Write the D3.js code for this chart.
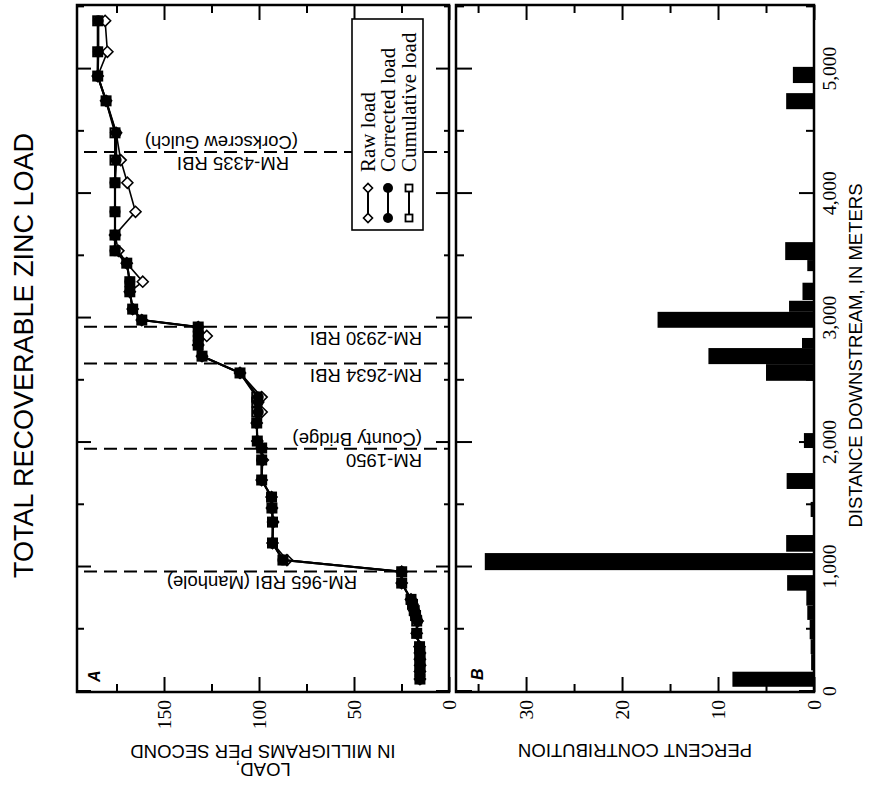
<!DOCTYPE html>
<html>
<head>
<meta charset="utf-8">
<script src="https://cdn.jsdelivr.net/npm/d3@7"></script>
<style>
  html, body { margin: 0; padding: 0; background: #fff; }
  svg { display: block; }
</style>
</head>
<body>
<script>
// ---- Data ---------------------------------------------------------------
// Sampling sites, distance downstream (m)
const distance = [100, 160, 210, 260, 310, 360, 467, 566, 610, 650, 700, 740, 871, 962,
  1056, 1193, 1361, 1474, 1562, 1699, 1860, 1956, 2012, 2157, 2245, 2325, 2365,
  2559, 2694, 2783, 2856, 2928, 2984, 3072, 3211, 3292, 3441, 3540, 3667, 3854,
  4087, 4269, 4488, 4745, 4944, 5139, 5388];

// Total recoverable zinc load (mg/s)
const rawLoad = [15.3, 15.3, 15.2, 15.3, 15.3, 15.5, 17.0, 16.5, 17.6, 18.3, 19.2, 20.0, 24.9, 24.9,
  85.3, 92.9, 92.6, 93.2, 93.4, 98.6, 98.0, 98.6, 100.9, 101.2, 98.6, 100.4, 98.6,
  110.0, 130.0, 132.0, 127.5, 132.0, 161.7, 166.5, 168.0, 161.2, 169.6, 174.0, 175.8, 165.0,
  169.3, 172.8, 175.2, 180.5, 184.9, 179.8, 181.0];

const correctedLoad = [15.3, 15.3, 15.2, 15.3, 15.3, 15.5, 17.0, 16.5, 17.6, 18.3, 19.2, 20.0, 24.9, 24.9,
  87.4, 92.9, 92.6, 93.2, 93.4, 98.6, 98.6, 98.6, 100.9, 101.2, 100.4, 100.4, 100.4,
  110.0, 130.0, 132.0, 132.0, 132.0, 161.7, 166.5, 168.0, 168.0, 169.6, 175.8, 175.8, 175.8,
  175.8, 175.2, 175.2, 180.5, 184.9, 184.6, 184.6];

const cumulativeLoad = [15.3, 15.3, 15.3, 15.3, 15.3, 15.5, 17.0, 17.0, 17.6, 18.3, 19.2, 20.0, 24.9, 24.9,
  87.4, 92.9, 92.9, 93.2, 93.4, 98.6, 98.6, 98.6, 100.9, 101.2, 101.2, 101.2, 101.2,
  110.0, 130.0, 132.0, 132.0, 132.0, 161.7, 166.5, 168.0, 168.0, 169.6, 175.8, 175.8, 175.8,
  175.8, 175.8, 175.8, 180.5, 184.9, 184.9, 184.9];

// Percent contribution by stream reach (start and end of reach, m)
const reachStart = [38, 170, 300, 420, 575, 690, 810, 975, 1123, 1402, 1627, 1956,
  2496, 2630, 2759, 2922, 3050, 3145, 3377, 3466, 4678, 4888];
const reachEnd = [159, 300, 420, 575, 690, 815, 935, 1112, 1257, 1523, 1755, 2076,
  2630, 2759, 2840, 3050, 3139, 3284, 3466, 3610, 4807, 5018];
const percentContribution = [8.5, 0.3, 0.35, 0.45, 0.7, 0.8, 2.8, 34.3, 2.9, 0.35, 2.85, 1.05,
  5.0, 11.0, 1.25, 16.3, 2.6, 1.2, 0.7, 3.0, 2.9, 2.2];

// Reference sites along the stream
const siteDistance = [965, 1950, 2634, 2930, 4335];
const siteName = ["RM-965 RBI (Manhole)", "RM-1950", "RM-2634 RBI", "RM-2930 RBI", "RM-4335 RBI"];
const siteNote = ["", "(County Bridge)", "", "", "(Corkscrew Gulch)"];

// Axis ticks
const distanceMajor = [0, 1000, 2000, 3000, 4000, 5000];
const distanceMinor = [500, 1500, 2500, 3500, 4500, 5500];
const loadMajor = [0, 50, 100, 150];
const loadMinor = [25, 75, 125, 175];
const percentMajor = [0, 10, 20, 30];
const percentMinor = [5, 15, 25, 35];

const legendLabels = ["Raw load", "Corrected load", "Cumulative load"];

// ---- Layout -------------------------------------------------------------
const SANS = '"Liberation Sans", Arial, Helvetica, sans-serif';
const SERIF = '"Liberation Serif", "Times New Roman", Times, serif';
const PAGE_W = 869, PAGE_H = 786;

// The figure is laid out in landscape and turned a quarter turn counter-clockwise.
const L = 94, R = 781;            // distance axis extent (landscape)
const aTop = 77, aBot = 449;      // panel A
const bTop = 456, bBot = 814;     // panel B

const svg = d3.select("body").append("svg")
  .attr("width", PAGE_W).attr("height", PAGE_H);
svg.append("rect").attr("width", PAGE_W).attr("height", PAGE_H).attr("fill", "#fff");

const g = svg.append("g").attr("transform", `translate(0,${PAGE_H}) rotate(-90)`);

const x = d3.scaleLinear().domain([0, 5515]).range([94.5, R]);
const yA = d3.scaleLinear().domain([0, 195.8]).range([aBot, aTop]);
const yB = d3.scaleLinear().domain([0, 37.3]).range([bBot, bTop]);

// ---- Axes ---------------------------------------------------------------
function drawAxis(axisFn, scale, values, len, at, horizontal, labels) {
  const ax = axisFn(scale).tickValues(values).tickSize(-len).tickPadding(8)
    .tickFormat(labels ? d3.format(",") : "");
  const sel = g.append("g")
    .attr("transform", horizontal ? `translate(0,${at})` : `translate(${at},0)`)
    .call(ax);
  sel.select(".domain").remove();
  sel.selectAll(".tick line").attr("stroke", "#000").attr("stroke-width", 2);
  sel.selectAll("text").attr("font-family", SERIF).attr("font-size", 19.5).attr("fill", "#000");
  return sel;
}

// Panel A
drawAxis(d3.axisTop, x, distanceMajor, 14, aTop, true, false);
drawAxis(d3.axisTop, x, distanceMinor.filter(d => x(d) < R), 7, aTop, true, false);
drawAxis(d3.axisBottom, x, distanceMajor, 13, aBot, true, false);
drawAxis(d3.axisBottom, x, distanceMinor.filter(d => x(d) < R), 5, aBot, true, false);
drawAxis(d3.axisLeft, yA, loadMajor, 15, L, false, true);
drawAxis(d3.axisLeft, yA, loadMinor, 8, L, false, false);
drawAxis(d3.axisRight, yA, loadMajor, 15, R, false, false);
drawAxis(d3.axisRight, yA, loadMinor, 8, R, false, false);

// Panel B
drawAxis(d3.axisTop, x, distanceMajor, 16, bTop, true, false);
drawAxis(d3.axisTop, x, distanceMinor.filter(d => x(d) < R), 8, bTop, true, false);
drawAxis(d3.axisBottom, x, distanceMajor, 15, bBot, true, true);
drawAxis(d3.axisBottom, x, distanceMinor.filter(d => x(d) < R), 8, bBot, true, false);
drawAxis(d3.axisLeft, yB, percentMajor, 15, L, false, true);
drawAxis(d3.axisLeft, yB, percentMinor, 8, L, false, false);
drawAxis(d3.axisRight, yB, percentMajor, 15, R, false, false);
drawAxis(d3.axisRight, yB, percentMinor, 8, R, false, false);

// ---- Panel B bars -------------------------------------------------------
const bars = percentContribution.map((p, i) => ({ a: reachStart[i], b: reachEnd[i], p }));
g.append("g").selectAll("rect").data(bars).join("rect")
  .attr("x", d => x(d.a))
  .attr("width", d => x(d.b) - x(d.a))
  .attr("y", d => yB(d.p))
  .attr("height", d => yB(0) - yB(d.p))
  .attr("fill", "#000");

// ---- Reference site lines ----------------------------------------------
const sites = siteDistance.map((d, i) => ({ d, name: siteName[i], note: siteNote[i] }));
const nameStart = [357, 422, 422, 422, 289];
const noteStart = [0, 422, 0, 0, 298];

g.append("g").selectAll("line").data(sites).join("line")
  .attr("x1", d => x(d.d)).attr("x2", d => x(d.d))
  .attr("y1", 84).attr("y2", aBot)
  .attr("stroke", "#000").attr("stroke-width", 2)
  .attr("stroke-dasharray", "13,7");

sites.forEach((s, i) => {
  g.append("text")
    .attr("transform", `translate(${x(s.d) - 5},${nameStart[i]}) rotate(-90)`)
    .attr("font-family", SANS).attr("font-size", 18.5).attr("fill", "#000")
    .text(s.name);
  if (s.note) {
    g.append("text")
      .attr("transform", `translate(${x(s.d) + 16},${noteStart[i]}) rotate(-90)`)
      .attr("font-family", SANS).attr("font-size", 18.5).attr("fill", "#000")
      .text(s.note);
  }
});

// ---- Panel A series -----------------------------------------------------
const raw = distance.map((d, i) => ({ d, v: rawLoad[i] }));
const corr = distance.map((d, i) => ({ d, v: correctedLoad[i] }));
const cum = distance.map((d, i) => ({ d, v: cumulativeLoad[i] }));

const line = d3.line().x(p => x(p.d)).y(p => yA(p.v));
const diamond = s => `M0,${-s}L${s},0L0,${s}L${-s},0Z`;

function drawRaw(sel, pts) {
  sel.append("path").datum(pts).attr("d", line).attr("fill", "none")
    .attr("stroke", "#000").attr("stroke-width", 1.6);
  sel.selectAll("path.dm").data(pts).join("path").attr("class", "dm")
    .attr("d", diamond(5.5))
    .attr("transform", p => `translate(${x(p.d)},${yA(p.v)})`)
    .attr("fill", "#fff").attr("stroke", "#000").attr("stroke-width", 1.6);
}
function drawCum(sel, pts) {
  sel.append("path").datum(pts).attr("d", line).attr("fill", "none")
    .attr("stroke", "#000").attr("stroke-width", 2);
  sel.selectAll("rect").data(pts).join("rect")
    .attr("x", p => x(p.d) - 4.5).attr("y", p => yA(p.v) - 4.5)
    .attr("width", 9).attr("height", 9)
    .attr("fill", "#fff").attr("stroke", "#000").attr("stroke-width", 2);
}
function drawCorr(sel, pts) {
  sel.append("path").datum(pts).attr("d", line).attr("fill", "none")
    .attr("stroke", "#000").attr("stroke-width", 2.2);
  sel.selectAll("circle").data(pts).join("circle")
    .attr("cx", p => x(p.d)).attr("cy", p => yA(p.v)).attr("r", 5.5)
    .attr("fill", "#000");
}
drawRaw(g.append("g"), raw);
drawCum(g.append("g"), cum);
drawCorr(g.append("g"), corr);

// ---- Legend -------------------------------------------------------------
const leg = g.append("g");
leg.append("rect").attr("x", 556).attr("y", 352).attr("width", 211).attr("height", 71)
  .attr("fill", "#fff").attr("stroke", "#000").attr("stroke-width", 1.6);
const rowV = [368, 388, 409];
legendLabels.forEach((lab, i) => {
  const r = leg.append("g");
  r.append("line").attr("x1", 568).attr("x2", 598).attr("y1", rowV[i]).attr("y2", rowV[i])
    .attr("stroke", "#000").attr("stroke-width", 2);
  [568, 598].forEach(u => {
    if (i === 0) {
      r.append("path").attr("d", diamond(4.5)).attr("transform", `translate(${u},${rowV[i]})`)
        .attr("fill", "#fff").attr("stroke", "#000").attr("stroke-width", 1.6);
    } else if (i === 1) {
      r.append("circle").attr("cx", u).attr("cy", rowV[i]).attr("r", 5).attr("fill", "#000");
    } else {
      r.append("rect").attr("x", u - 3.5).attr("y", rowV[i] - 3.5).attr("width", 7).attr("height", 7)
        .attr("fill", "#fff").attr("stroke", "#000").attr("stroke-width", 1.8);
    }
  });
  r.append("text").attr("x", 614).attr("y", rowV[i] + 7)
    .attr("font-family", SERIF).attr("font-size", 21).attr("fill", "#000").text(lab);
});

// ---- Frames -------------------------------------------------------------
g.append("rect").attr("x", L).attr("y", aTop).attr("width", R - L).attr("height", aBot - aTop)
  .attr("fill", "none").attr("stroke", "#000").attr("stroke-width", 2.5);
g.append("rect").attr("x", L).attr("y", bTop).attr("width", R - L).attr("height", bBot - bTop)
  .attr("fill", "none").attr("stroke", "#000").attr("stroke-width", 2.5);

// Panel letters
g.append("text").attr("x", 104).attr("y", 100).attr("font-family", SANS)
  .attr("font-weight", "bold").attr("font-style", "italic").attr("font-size", 16).text("A");
g.append("text").attr("x", 106).attr("y", 483).attr("font-family", SANS)
  .attr("font-weight", "bold").attr("font-style", "italic").attr("font-size", 16).text("B");

// ---- Titles -------------------------------------------------------------
const midU = (L + R) / 2 - 7;
g.append("text").attr("x", midU).attr("y", 33).attr("text-anchor", "middle")
  .attr("font-family", SANS).attr("font-size", 27).text("TOTAL RECOVERABLE ZINC LOAD");
g.append("text").attr("x", midU).attr("y", 862).attr("text-anchor", "middle")
  .attr("font-family", SANS).attr("font-size", 18.5).text("DISTANCE DOWNSTREAM, IN METERS");

const loadTitle = g.append("text")
  .attr("transform", `translate(0,${(aTop + aBot) / 2}) rotate(-90)`)
  .attr("text-anchor", "middle").attr("font-family", SANS).attr("font-size", 18.5);
loadTitle.append("tspan").attr("x", 0).attr("y", 23).text("LOAD,");
loadTitle.append("tspan").attr("x", 0).attr("y", 41).text("IN MILLIGRAMS PER SECOND");

g.append("text")
  .attr("transform", `translate(42,${(bTop + bBot) / 2}) rotate(-90)`)
  .attr("text-anchor", "middle").attr("font-family", SANS).attr("font-size", 18.5)
  .text("PERCENT CONTRIBUTION");
</script>
</body>
</html>
